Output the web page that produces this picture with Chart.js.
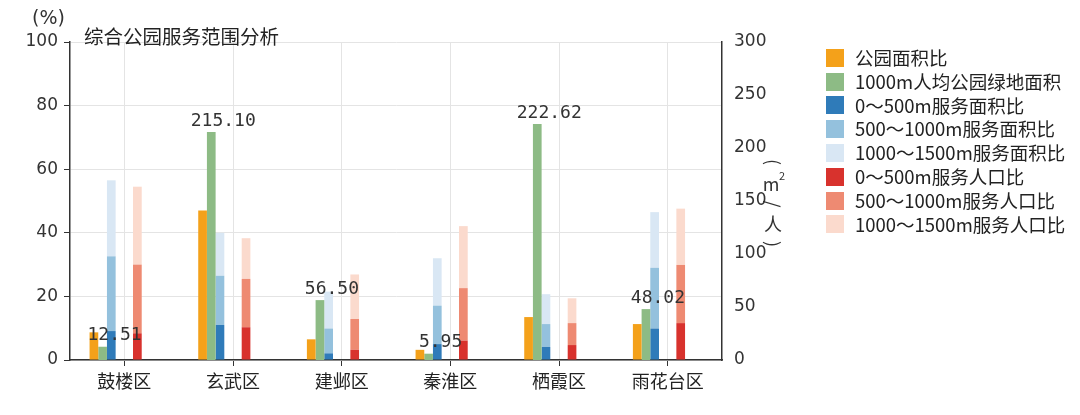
<!DOCTYPE html>
<html><head><meta charset="utf-8">
<script src="https://cdn.jsdelivr.net/npm/chart.js@4"></script>
<style>
body{margin:0;background:#fff;font-family:"Noto Sans CJK SC",sans-serif}
#wrap{position:relative;width:1080px;height:415px}
#legend{position:absolute;left:826px;top:46px;font-size:18.5px;color:#222;line-height:23.8px}
#legend div{display:flex;align-items:center;white-space:nowrap}
#legend span{display:inline-block;width:18px;height:18px;margin-right:11px}
#pct{position:absolute;left:32px;top:6px;font-size:19px;color:#333;font-family:"DejaVu Sans"}
#title{position:absolute;left:84px;top:21px;font-size:19.5px;color:#222}
</style></head><body>
<div id="wrap"><canvas id="c" width="1080" height="415"></canvas>
<div id="pct">(%)</div><div id="title">综合公园服务范围分析</div>
<div id="legend"></div></div>
<script>
const categories=["鼓楼区","玄武区","建邺区","秦淮区","栖霞区","雨花台区"];
const parkArea=[8.7,47,6.5,3.2,13.5,11.3];
const greenPerCap=[12.51,215.10,56.50,5.95,222.62,48.02];
const svc500=[9.1,11,2.1,5,4.1,9.9];
const svc1000=[32.6,26.5,9.9,17.1,11.3,29];
const svc1500=[56.5,40,21.5,32,20.7,46.5];
const pop500=[8.4,10.3,3.2,6.1,4.7,11.6];
const pop1000=[30,25.5,12.9,22.6,11.6,29.9];
const pop1500=[54.5,38.3,26.9,42.1,19.4,47.6];
const legendNames=["公园面积比","1000m人均公园绿地面积","0～500m服务面积比","500～1000m服务面积比","1000～1500m服务面积比","0～500m服务人口比","500～1000m服务人口比","1000～1500m服务人口比"];
const colors=["#f4a11a","#8dbb85","#2f7bb9","#94c1dd","#d9e7f4","#d8322d","#ee8a72","#fbdacd"];
const diff=(a,b)=>a.map((v,i)=>+(v-b[i]).toFixed(2));
document.getElementById('legend').innerHTML=legendNames.map((n,i)=>`<div><span style="background:${colors[i]}"></span>${n}</div>`).join('');
const ds=[
 {data:parkArea,backgroundColor:colors[0],stack:'a',yAxisID:'y'},
 {data:greenPerCap,backgroundColor:colors[1],stack:'g',yAxisID:'y1'},
 {data:svc500,backgroundColor:colors[2],stack:'b',yAxisID:'y'},
 {data:diff(svc1000,svc500),backgroundColor:colors[3],stack:'b',yAxisID:'y'},
 {data:diff(svc1500,svc1000),backgroundColor:colors[4],stack:'b',yAxisID:'y'},
 {data:pop500,backgroundColor:colors[5],stack:'r',yAxisID:'y'},
 {data:diff(pop1000,pop500),backgroundColor:colors[6],stack:'r',yAxisID:'y'},
 {data:diff(pop1500,pop1000),backgroundColor:colors[7],stack:'r',yAxisID:'y'}
];
const labelPlugin={id:'lbl',afterDatasetsDraw(ch){
 const c=ch.ctx;const m=ch.getDatasetMeta(1);
 c.save();c.font='18px "DejaVu Sans Mono"';c.fillStyle='#333';c.textAlign='center';c.textBaseline='bottom';
 m.data.forEach((b,i)=>c.fillText(greenPerCap[i].toFixed(2),b.x+12,b.y-2));
 const x=773;c.font='18px "Noto Sans CJK SC"';c.textAlign='center';c.textBaseline='middle';
 const rot=(t,yy)=>{c.save();c.translate(x,yy);c.rotate(Math.PI/2);c.fillText(t,0,0);c.restore();};
 rot('(',162);c.fillText('m',x-2,184);c.font='11px "Noto Sans CJK SC"';c.fillText('2',x+9,176);
 c.font='18px "Noto Sans CJK SC"';rot('/',204);c.fillText('人',x,224);rot(')',244);
 c.restore();}};
new Chart(document.getElementById('c'),{type:'bar',data:{labels:categories,datasets:ds},
plugins:[labelPlugin],
options:{responsive:false,animation:false,
 layout:{padding:{left:0,right:300,top:42,bottom:0}},
 datasets:{bar:{barPercentage:1,categoryPercentage:0.64}},
 plugins:{legend:{display:false},tooltip:{enabled:false}},
 scales:{
  x:{stacked:false,grid:{offset:false,color:'#e4e4e4',drawTicks:true,tickLength:6,tickColor:'#333'},border:{color:'#333',width:1.5},
     ticks:{color:'#222',font:{size:18,family:'"Noto Sans CJK SC"'},padding:4},afterFit(a){a.height=55;}},
  y:{stacked:true,min:0,max:100,position:'left',grid:{color:'#e4e4e4',tickLength:6,tickColor:'#333'},border:{color:'#333',width:1.5},
     ticks:{stepSize:20,color:'#333',font:{size:17,family:'"DejaVu Sans"'},padding:6},afterFit(a){a.width=70;}},
  y1:{stacked:true,min:0,max:300,position:'right',grid:{display:false,tickLength:6,tickColor:'#333'},border:{color:'#333',width:1.5},
     ticks:{stepSize:50,color:'#333',font:{size:17,family:'"DejaVu Sans"'},padding:6},afterFit(a){a.width=58;}}
 }}});
</script></body></html>
